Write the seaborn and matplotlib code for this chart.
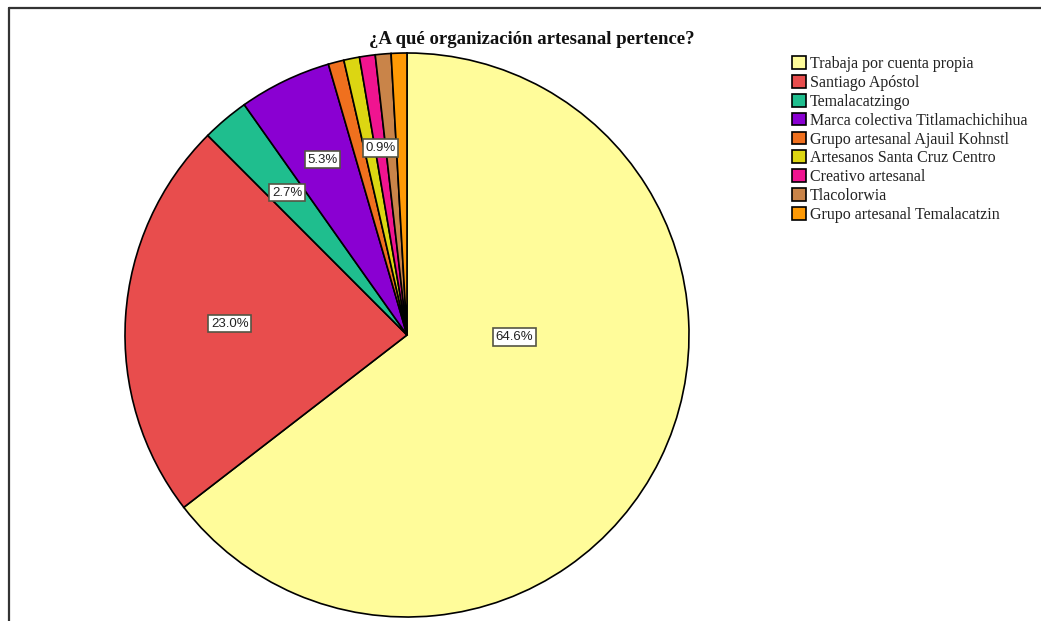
import numpy as np
import matplotlib
matplotlib.use("Agg")
import matplotlib.pyplot as plt
from matplotlib.lines import Line2D
import seaborn as sns

categories = ["Trabaja por cuenta propia", "Santiago Apóstol", "Temalacatzingo",
              "Marca colectiva Titlamachichihua", "Grupo artesanal Ajauil Kohnstl",
              "Artesanos Santa Cruz Centro", "Creativo artesanal", "Tlacolorwia",
              "Grupo artesanal Temalacatzin"]
values = [64.6, 23.0, 2.7, 5.3, 0.9, 0.9, 0.9, 0.9, 0.9]
shown_labels = ["64.6%", "23.0%", "2.7%", "5.3%", "", "", "0.9%", "", ""]
colors = ["#FFFC9A", "#E84D4D", "#1FBE8E", "#8A00D2", "#F0701E",
          "#DCD612", "#F01490", "#C98449", "#FF9A05"]
title = "¿A qué organización artesanal pertence?"

sns.set_theme(style="white")
plt.rcParams['font.family'] = ['Liberation Serif', 'DejaVu Serif']

W, H = 1041, 621
fig = plt.figure(figsize=(W / 100, H / 100), dpi=100)
fig.patch.set_facecolor("white")

cx, cy, R = 407, 335, 282
ax = fig.add_axes([(cx - R) / W, (H - cy - R) / H, 2 * R / W, 2 * R / H])
wedges, _ = ax.pie(values, colors=colors, startangle=90, counterclock=False,
                   wedgeprops=dict(edgecolor="black", linewidth=1.2))
ax.set_xlim(-1, 1)
ax.set_ylim(-1, 1)
ax.set_aspect("equal")
ax.axis("off")

# label radii (fraction of radius) per slice; the big slice uses a custom angle
label_r = [0.38, 0.63, 0.66, 0.69, 0.67, 0.67, 0.67, 0.67, 0.67]
for i, (w, lab) in enumerate(zip(wedges, shown_labels)):
    if not lab:
        continue
    ang = np.deg2rad((w.theta1 + w.theta2) / 2)
    if i == 0:
        ang = np.deg2rad(-1.0)
    x, y = label_r[i] * np.cos(ang), label_r[i] * np.sin(ang)
    ax.text(x, y, lab, ha="center", va="center", fontsize=9.5,
            family=["Liberation Sans", "DejaVu Sans"], color="#222222",
            bbox=dict(boxstyle="square,pad=0.2", facecolor="white",
                      edgecolor="#555544", linewidth=1.2))

fig.text(532 / W, 1 - 40 / H, title, ha="center", va="center",
         fontsize=13.5, fontweight="bold", color="#111111")

leg = fig.legend(wedges, categories, loc="upper left",
                 bbox_to_anchor=(792 / W, 1 - 56 / H), frameon=False,
                 fontsize=11.5, handlelength=0.85, handleheight=0.85,
                 handletextpad=0.25, labelspacing=0.18, borderpad=0.0,
                 borderaxespad=0.0)
for t in leg.get_texts():
    t.set_color("#222222")

# frame lines (top and left)
fig.add_artist(Line2D([9 / W, 1.0], [1 - 8 / H, 1 - 8 / H], color="#333333",
                      linewidth=1.6, transform=fig.transFigure))
fig.add_artist(Line2D([9 / W, 9 / W], [0.0, 1 - 8 / H], color="#333333",
                      linewidth=1.6, transform=fig.transFigure))

fig.savefig("out.png", dpi=100, facecolor="white")
